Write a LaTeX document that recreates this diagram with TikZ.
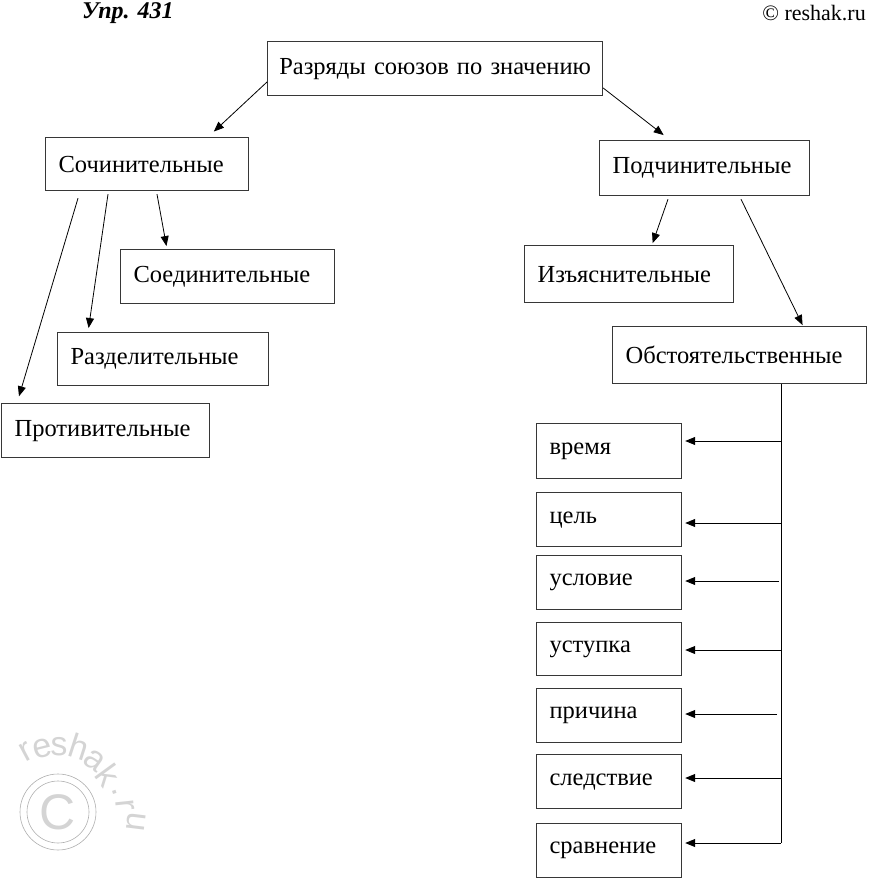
\documentclass[tikz,border=0pt]{standalone}
\usepackage{fontspec}
\setmainfont{Liberation Serif}
\newfontfamily\wmfont{Liberation Sans}
\usetikzlibrary{arrows.meta,positioning,calc}
\definecolor{frame}{RGB}{55,55,55}
\definecolor{wmfill}{RGB}{212,212,212}
\definecolor{wmline}{RGB}{175,175,175}
\tikzset{
  box/.style={draw=frame,line width=1.2pt,anchor=north west,align=left,inner xsep=13pt,inner ysep=0pt,font=\fontsize{24.5}{27}\selectfont},
  arr/.style={-{Triangle[length=10pt,width=8pt]},line width=0.8pt},
  hdr/.style={font=\fontsize{22}{24}\selectfont,inner sep=0pt}
}
\begin{document}
\begin{tikzpicture}[x=1pt,y=-1pt,
  wmk/.style={font=\wmfont\fontsize{34}{34}\selectfont,text=wmfill,inner sep=0pt}]
\useasboundingbox (0,0) rectangle (869,878);
% header
\node[hdr,anchor=west,font=\fontsize{24}{26}\selectfont] (upr) at (82,13) {\textbf{\textit{Упр. 431}}};
\node[hdr,anchor=east] (site) at (866,13) {© reshak.ru};
% watermark
\node[circle,draw=wmline,line width=0.6pt,minimum size=76pt] (copy) at (58,812) {};
\node[circle,draw=wmline,line width=0.6pt,minimum size=62pt] (copyin) at (copy) {};
\node[font=\wmfont\fontsize{50}{50}\selectfont,text=wmfill,inner sep=0pt] (copyc) at (copy) {C};
\foreach \ch/\ang/\rad [count=\n] in {r/118/68,e/104/65,s/89/65,h/72/69,a/55/63,k/36/62,./19/60,r/6/68,u/-7/79}
  \node[wmk,rotate=\ang-90] (wm\n) at ($(copy)+(-\ang:\rad)$) {\ch};
% top of the tree
\node[box,align=center,inner xsep=4pt,text width=327pt,minimum height=54pt] (root) at (267,41) {Разряды союзов по значению};
\node[box,text width=177pt,minimum height=53pt] (soch) at (45,137) {Сочинительные};
\node[box,text width=184pt,minimum height=55pt] (podch) at (599,140) {Подчинительные};
\draw[arr,shorten >=8pt] ([yshift=-41pt]root.north west) -- ([xshift=163pt]soch.north west);
\draw[arr,shorten >=8pt] ([yshift=-47pt]root.north east) -- ([xshift=71pt]podch.north west);
% left branch
\node[box,text width=188pt,minimum height=54pt] (soed) at (120,249) {Соединительные};
\node[box,text width=185pt,minimum height=53pt] (razd) at (57,332) {Разделительные};
\node[box,text width=182pt,minimum height=54pt] (prot) at (1,403) {Противительные};
\draw[arr,shorten >=3pt] ([xshift=112pt,yshift=-3pt]soch.south west) -- ([xshift=47pt]soed.north west);
\draw[arr,shorten >=4pt] ([xshift=63pt,yshift=-3pt]soch.south west) -- ([xshift=31pt]razd.north west);
\draw[arr,shorten >=7pt] ([xshift=33pt,yshift=-7pt]soch.south west) -- ([xshift=16pt]prot.north west);
% right branch
\node[box,text width=183pt,minimum height=57pt] (izj) at (524,245) {Изъяснительные};
\node[box,text width=228pt,minimum height=57pt] (obst) at (612,326) {Обстоятельственные};
\draw[arr,shorten >=2pt] ([xshift=69pt,yshift=-3pt]podch.south west) -- ([xshift=128pt]izj.north west);
\draw[arr,shorten >=1pt] ([xshift=142pt,yshift=-3pt]podch.south west) -- ([xshift=191pt]obst.north west);
% kinds of adverbial conjunctions
\coordinate (sp) at ([xshift=169pt]obst.south west);
\foreach \i/\y/\h/\txt/\ax/\ay in {
1/423/55/время/781/441,
2/492/54/цель/781/523,
3/555/54/условие/779/581,
4/622/53/уступка/781/650,
5/688/54/причина/777/714,
6/754/54/следствие/781/778,
7/823/54/сравнение/781/843}{
  \node[box,text width=119pt,minimum height=\h pt] (k\i) at (536,\y) {\txt};
  \coordinate (a\i) at (\ax,\ay);
  \draw[arr,shorten >=3pt] (a\i) -- (a\i -| k\i.east);
}
\draw[line width=0.8pt] (sp) -- (a7);
\end{tikzpicture}
\end{document}
